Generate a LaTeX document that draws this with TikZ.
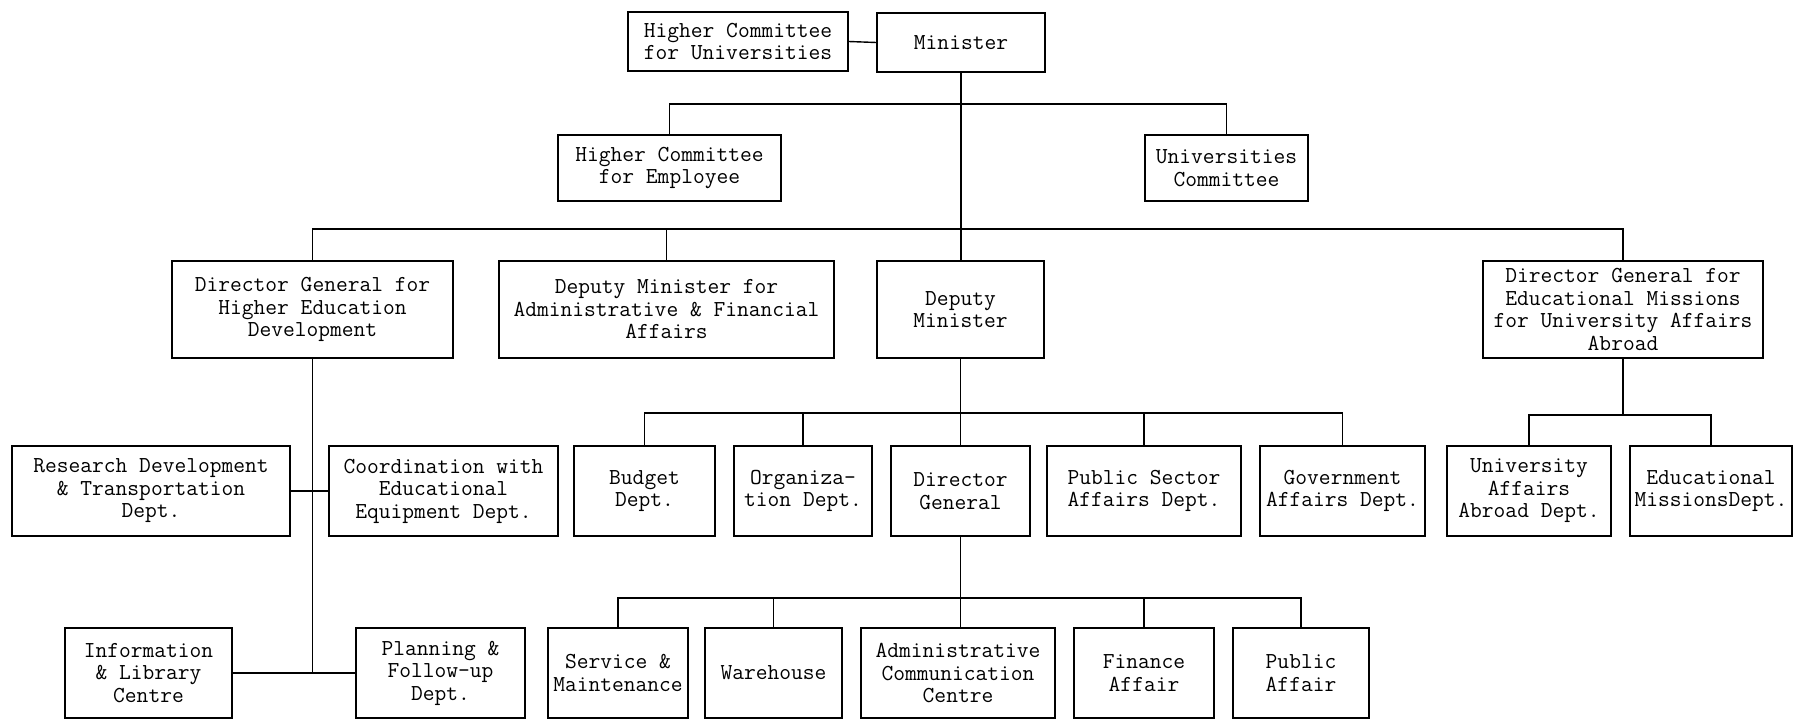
\documentclass[tikz,border=0pt]{standalone}
\usepackage{fontspec}
\begin{document}
\begin{tikzpicture}[x=0.02cm,y=-0.02cm,
  boxn/.style={draw, line width=1.1pt, inner sep=0pt, align=center,
    font=\ttfamily\addfontfeatures{FakeBold=0.7}\fontsize{13pt}{12.8pt}\selectfont},
  conn/.style={line width=0.8pt}]
\fill[white] (0,0) rectangle (1794,720);
\useasboundingbox (0,0) rectangle (1794,720);
% row 0
\node[boxn, minimum width=4.40cm, minimum height=1.18cm] (hcu) at (738,41.5) {Higher Committee\\for Universities};
\node[boxn, minimum width=3.36cm, minimum height=1.18cm] (min) at (961,42.5) {Minister};
% row 1
\node[boxn, minimum width=4.46cm, minimum height=1.32cm] (hce) at (669.5,168) {Higher Committee\\for Employee};
\node[boxn, minimum width=3.26cm, minimum height=1.32cm] (uc) at (1226.5,168) {Universities\\Committee};
% row 2
\node[boxn, minimum width=5.62cm, minimum height=1.94cm] (dghed) at (312.5,309.5) {Director General for\\Higher Education\\Development};
\node[boxn, minimum width=6.70cm, minimum height=1.94cm] (dmaf) at (666.5,309.5) {Deputy Minister for\\Administrative \& Financial\\Affairs};
\node[boxn, minimum width=3.34cm, minimum height=1.94cm] (dm) at (960.5,309.5) {Deputy\\Minister};
\node[boxn, minimum width=5.60cm, minimum height=1.94cm] (dgem) at (1623,309.5) {Director General for\\Educational Missions\\for University Affairs\\Abroad};
% row 3
\node[boxn, minimum width=5.56cm, minimum height=1.80cm] (rd) at (151,491) {Research Development\\\& Transportation\\Dept.};
\node[boxn, minimum width=4.58cm, minimum height=1.80cm] (coord) at (443.5,491) {Coordination with\\Educational\\Equipment Dept.};
\node[boxn, minimum width=2.82cm, minimum height=1.80cm] (budget) at (644.5,491) {Budget\\Dept.};
\node[boxn, minimum width=2.76cm, minimum height=1.80cm] (org) at (803,491) {Organiza-\\tion Dept.};
\node[boxn, minimum width=2.78cm, minimum height=1.80cm] (dg) at (960.5,491) {Director\\General};
\node[boxn, minimum width=3.88cm, minimum height=1.80cm] (ps) at (1144,491) {Public Sector\\Affairs Dept.};
\node[boxn, minimum width=3.30cm, minimum height=1.80cm] (gov) at (1342.5,491) {Government\\Affairs Dept.};
\node[boxn, minimum width=3.28cm, minimum height=1.80cm] (uaad) at (1529,491) {University\\Affairs\\Abroad Dept.};
\node[boxn, minimum width=3.24cm, minimum height=1.80cm] (emd) at (1711,491) {Educational\\MissionsDept.};
% row 4
\node[boxn, minimum width=3.34cm, minimum height=1.80cm] (info) at (148.5,673) {Information\\\& Library\\Centre};
\node[boxn, minimum width=3.38cm, minimum height=1.80cm] (plan) at (440.5,673) {Planning \&\\Follow-up\\Dept.};
\node[boxn, minimum width=2.80cm, minimum height=1.80cm] (serv) at (618,673) {Service \&\\Maintenance};
\node[boxn, minimum width=2.74cm, minimum height=1.80cm] (ware) at (773.5,673) {Warehouse};
\node[boxn, minimum width=3.88cm, minimum height=1.80cm] (acc) at (958,673) {Administrative\\Communication\\Centre};
\node[boxn, minimum width=2.80cm, minimum height=1.80cm] (fin) at (1144,673) {Finance\\Affair};
\node[boxn, minimum width=2.72cm, minimum height=1.80cm] (pub) at (1301,673) {Public\\Affair};
% bus coordinates
\coordinate (b1) at (961,104);
\coordinate (b2) at (961,229);
\coordinate (b3) at (961,413);
\coordinate (b5) at (1623,415);
\coordinate (b4) at (960.5,598);
% connectors
\draw[conn] (hcu.east) -- (min.west);
\draw[conn] (min.south) -- (min.south |- dm.north);
\draw[conn] (hce.north) |- (b1) -| (uc.north);
\draw[conn] (dghed.north) |- (b2) -| (dgem.north);
\draw[conn] (dmaf.north) -- (dmaf.north |- b2);
\draw[conn] (dm.south) -- (dg.north);
\draw[conn] (budget.north) |- (b3) -| (gov.north);
\draw[conn] (org.north) -- (org.north |- b3);
\draw[conn] (ps.north) -- (ps.north |- b3);
\draw[conn] (dgem.south) -- (b5);
\draw[conn] (uaad.north) |- (b5) -| (emd.north);
\draw[conn] (dg.south) -- (dg.south |- acc.north);
\draw[conn] (serv.north) |- (b4) -| (pub.north);
\draw[conn] (ware.north) -- (ware.north |- b4);
\draw[conn] (fin.north) -- (fin.north |- b4);
\draw[conn] (dghed.south) -- (dghed.south |- info.east);
\draw[conn] (rd.east) -- (coord.west);
\draw[conn] (info.east) -- (plan.west);
\end{tikzpicture}
\end{document}
